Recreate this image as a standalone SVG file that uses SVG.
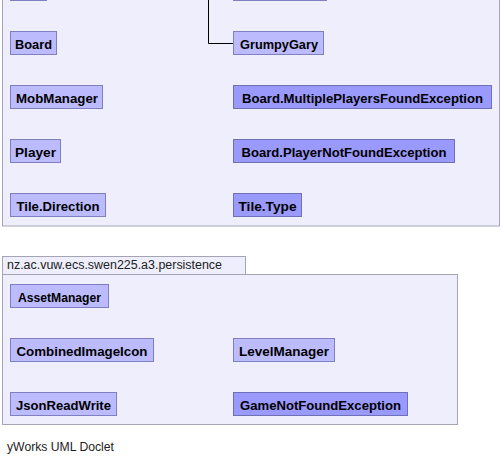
<svg xmlns="http://www.w3.org/2000/svg" width="503" height="462" viewBox="0 0 503 462">
<style>
.pkg{fill:#eeeefc;stroke:#a4a4b4;stroke-width:1}
.cls{fill:#bbbbfd;stroke:#8080c0;stroke-width:1}
.exc{fill:#9a9afc;stroke:#7070b8;stroke-width:1}
.lbl{font-family:"Liberation Sans",Arial,sans-serif;font-size:13px;font-weight:bold;fill:#000;text-anchor:middle}
.plbl{font-family:"Liberation Sans",Arial,sans-serif;font-size:12px;fill:#222}
.edge{fill:none;stroke:#000;stroke-width:1}
</style>
<rect width="503" height="462" fill="#fff"/>
<g id="pkg-model">
<rect class="pkg" x="2.5" y="-60.5" width="497" height="286.5"/>
</g>
<g id="pkg-persistence">
<rect class="pkg" x="2.5" y="256.5" width="243" height="18"/>
<text class="plbl" x="7" y="269" textLength="215" lengthAdjust="spacingAndGlyphs">nz.ac.vuw.ecs.swen225.a3.persistence</text>
<rect class="pkg" x="2.5" y="274.5" width="455" height="150"/>
</g>
<g id="connectors">
<path class="edge" d="M208.5,-10 V43.5 H233"/>
</g>
<g id="node-top-left"><rect class="cls" x="10.5" y="-22.5" width="36" height="23"/></g>
<g id="node-top-right"><rect class="cls" x="233.5" y="-22.5" width="93" height="23"/></g>
<g id="node-board"><rect class="cls" x="10.5" y="31.5" width="46" height="23"/><text class="lbl" x="33.5" y="48.5" textLength="37" lengthAdjust="spacingAndGlyphs">Board</text></g>
<g id="node-grumpygary"><rect class="cls" x="233.5" y="31.5" width="90" height="23"/><text class="lbl" x="279" y="48.5" textLength="78" lengthAdjust="spacingAndGlyphs">GrumpyGary</text></g>
<g id="node-mobmanager"><rect class="cls" x="10.5" y="85.5" width="92" height="23"/><text class="lbl" x="57" y="102.5" textLength="82" lengthAdjust="spacingAndGlyphs">MobManager</text></g>
<g id="node-mpfe"><rect class="exc" x="233.5" y="85.5" width="258" height="23"/><text class="lbl" x="362.5" y="102.5" textLength="241" lengthAdjust="spacingAndGlyphs">Board.MultiplePlayersFoundException</text></g>
<g id="node-player"><rect class="cls" x="10.5" y="139.5" width="50" height="23"/><text class="lbl" x="35.5" y="156.5" textLength="41" lengthAdjust="spacingAndGlyphs">Player</text></g>
<g id="node-pnfe"><rect class="exc" x="233.5" y="139.5" width="221" height="23"/><text class="lbl" x="344" y="156.5" textLength="205" lengthAdjust="spacingAndGlyphs">Board.PlayerNotFoundException</text></g>
<g id="node-tiledirection"><rect class="cls" x="10.5" y="193.5" width="95" height="23"/><text class="lbl" x="58" y="210.5" textLength="83" lengthAdjust="spacingAndGlyphs">Tile.Direction</text></g>
<g id="node-tiletype"><rect class="exc" x="233.5" y="193.5" width="68" height="23"/><text class="lbl" x="267.5" y="210.5" textLength="58" lengthAdjust="spacingAndGlyphs">Tile.Type</text></g>
<g id="node-assetmanager"><rect class="cls" x="10.5" y="284.5" width="98" height="23"/><text class="lbl" x="59.5" y="301.5" textLength="83" lengthAdjust="spacingAndGlyphs">AssetManager</text></g>
<g id="node-combinedimageicon"><rect class="cls" x="10.5" y="338.5" width="143" height="23"/><text class="lbl" x="82" y="355.5" textLength="131" lengthAdjust="spacingAndGlyphs">CombinedImageIcon</text></g>
<g id="node-levelmanager"><rect class="cls" x="233.5" y="338.5" width="101" height="23"/><text class="lbl" x="284" y="355.5" textLength="90" lengthAdjust="spacingAndGlyphs">LevelManager</text></g>
<g id="node-jsonreadwrite"><rect class="cls" x="10.5" y="392.5" width="106" height="23"/><text class="lbl" x="63.5" y="409.5" textLength="95" lengthAdjust="spacingAndGlyphs">JsonReadWrite</text></g>
<g id="node-gamenotfound"><rect class="exc" x="233.5" y="392.5" width="174" height="23"/><text class="lbl" x="320.5" y="409.5" textLength="161" lengthAdjust="spacingAndGlyphs">GameNotFoundException</text></g>
<text class="plbl" x="7" y="451" textLength="107" lengthAdjust="spacingAndGlyphs">yWorks UML Doclet</text>
</svg>
